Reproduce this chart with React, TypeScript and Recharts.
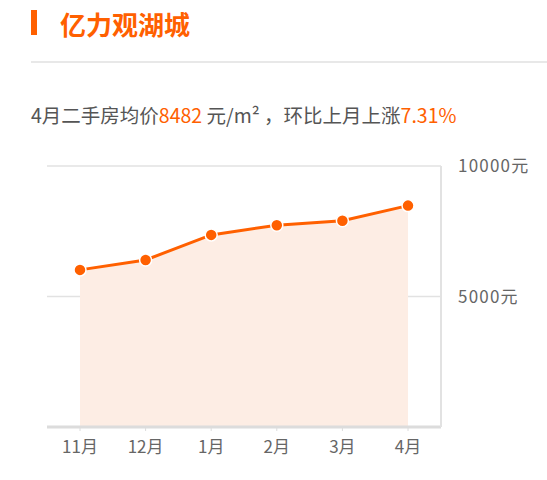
import { AreaChart, Area, XAxis, YAxis, CartesianGrid } from "recharts";

const months = ["11月", "12月", "1月", "2月", "3月", "4月"];
const prices = [6020, 6400, 7360, 7730, 7900, 8482];
const yTicks = [5000, 10000];

const ORANGE = "#ff6000";
const FONT = '"Microsoft YaHei", "Noto Sans CJK SC", sans-serif';

const chartData = months.map((m, i) => ({ month: m, price: prices[i] }));

export default function App() {
  return (
    <div style={{ position: "absolute", left: 0, top: 0, width: 547, height: 480, background: "#fff", fontFamily: FONT }}>
      <div style={{ position: "absolute", left: 31, top: 10, width: 6, height: 25, background: ORANGE }} />
      <div style={{ position: "absolute", left: 60, top: 7, fontSize: 26, fontWeight: 700, color: ORANGE, lineHeight: "34px" }}>
        亿力观湖城
      </div>
      <div style={{ position: "absolute", left: 31, right: 0, top: 61, height: 2, background: "#e8e8e8" }} />
      <div style={{ position: "absolute", left: 31, top: 102, fontSize: 19.5, color: "#555", lineHeight: "26px", whiteSpace: "nowrap" }}>
        4月二手房均价<span style={{ color: ORANGE }}>8482</span> 元/m² ，环比上月上涨<span style={{ color: ORANGE }}>7.31%</span>
      </div>
      <div style={{ position: "absolute", left: 0, top: 150 }}>
        <AreaChart width={547} height={330} data={chartData} margin={{ top: 16, right: 0, left: 47, bottom: 23 }}>
          <CartesianGrid horizontal vertical={false} stroke="#e2e2e2" strokeWidth={1.5} />
          <XAxis
            dataKey="month"
            padding={{ left: 33, right: 33 }}
            axisLine={{ stroke: "#dcdcdc", strokeWidth: 3 }}
            tickLine={{ stroke: "#dcdcdc" }}
            tickSize={4}
            tickMargin={10}
            height={30}
            tick={{ fill: "#666", fontSize: 17, fontFamily: FONT }}
          />
          <YAxis
            orientation="right"
            domain={[0, 10000]}
            ticks={yTicks}
            tickFormatter={(v: number) => `${v}元`}
            axisLine={{ stroke: "#e2e2e2", strokeWidth: 2 }}
            tickLine={false}
            tickSize={0}
            tickMargin={17}
            width={106}
            tick={{ fill: "#666", fontSize: 17, fontFamily: FONT, letterSpacing: 1.2 }}
          />
          <Area
            type="linear"
            dataKey="price"
            stroke={ORANGE}
            strokeWidth={3}
            fill="#fdede4"
            fillOpacity={1}
            dot={{ r: 6, fill: ORANGE, stroke: "#fff", strokeWidth: 1.5 }}
            activeDot={false}
            isAnimationActive={false}
          />
        </AreaChart>
      </div>
    </div>
  );
}
